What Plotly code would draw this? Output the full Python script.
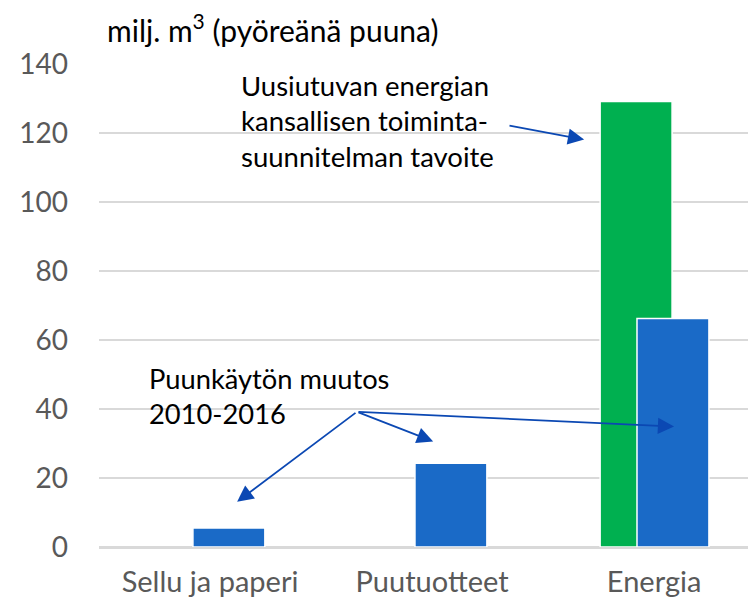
import plotly.graph_objects as go

categories = ["Sellu ja paperi", "Puutuotteet", "Energia"]
target_values = [None, None, 129.1]
change_values = [5.5, 24.3, 66.2]
y_ticks = [0, 20, 40, 60, 80, 100, 120, 140]

GREEN = "#00b050"
BLUE = "#1a6ac7"
ARROW = "#0b48b3"
GRAY = "#595959"
FONT = "Lato"

fig = go.Figure()
fig.add_trace(go.Bar(x=categories, y=target_values, marker=dict(color=GREEN, line=dict(color="white", width=1.5)),
                     width=0.324, offset=-0.243, showlegend=False, hoverinfo="skip"))
fig.add_trace(go.Bar(x=categories, y=change_values, marker=dict(color=BLUE, line=dict(color="white", width=1.5)),
                     width=0.324, offset=-0.077, showlegend=False, hoverinfo="skip"))

# text annotations (one per line for line spacing)
lines1 = ["Uusiutuvan energian", "kansallisen toiminta-", "suunnitelman tavoite"]
for i, t in enumerate(lines1):
    fig.add_annotation(x=0.13, y=133.9 - i * 10.4, xref="x", yref="y", text=t, showarrow=False,
                       xanchor="left", yanchor="middle", font=dict(family=FONT, size=27.5, color="black"))
lines2 = ["Puunkäytön muutos", "2010-2016"]
for i, t in enumerate(lines2):
    fig.add_annotation(x=-0.283, y=48.9 - i * 10.2, xref="x", yref="y", text=t, showarrow=False,
                       xanchor="left", yanchor="middle", font=dict(family=FONT, size=27.3, color="black"))

# arrows
arrows = [((1.342, 122.2), (1.685, 118.1)),
          ((0.662, 39.2), (0.122, 13.1)),
          ((0.662, 39.2), (1.005, 30.6)),
          ((0.662, 39.2), (2.09, 34.9))]
for (tx, ty), (hx, hy) in arrows:
    fig.add_annotation(x=hx, y=hy, ax=tx, ay=ty, xref="x", yref="y", axref="x", ayref="y", text="",
                       showarrow=True, arrowhead=2, arrowsize=1.8, arrowwidth=1.8, arrowcolor=ARROW, standoff=0)

fig.update_layout(
    barmode="overlay",
    width=748, height=596,
    margin=dict(l=91, r=0, t=56, b=57),
    plot_bgcolor="white", paper_bgcolor="white",
    title=dict(text="milj. m<sup>3</sup> (pyöreänä puuna)", xref="container", yref="container",
               x=99 / 748, xanchor="left", y=1 - 23 / 596, yanchor="middle",
               font=dict(family=FONT, size=30, color="black")),
    xaxis=dict(range=[-0.5, 2.459], showgrid=False, showline=False, ticks="",
               tickfont=dict(family=FONT, size=29, color=GRAY), ticklabelstandoff=15),
    yaxis=dict(range=[0, 140], tickvals=y_ticks, showgrid=True, gridcolor="#d9d9d9", gridwidth=1.5,
               zeroline=True, zerolinecolor="#d9d9d9", zerolinewidth=2.5, showline=False,
               tickfont=dict(family=FONT, size=28, color=GRAY), ticklabelstandoff=30),
)

fig.write_html("out.html")
